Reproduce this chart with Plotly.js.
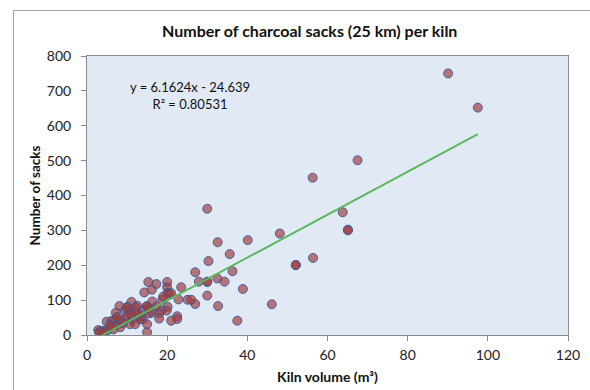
<!DOCTYPE html>
<html>
<head>
<meta charset="utf-8">
<script src="https://cdn.plot.ly/plotly-3.0.1.min.js"></script>
<style>
html,body{margin:0;padding:0;background:#fff;}
#wrap{position:relative;width:590px;height:390px;overflow:hidden;}
#frame{position:absolute;left:13px;top:10px;width:700px;height:500px;border-left:1px solid #a6a6a6;border-top:1px solid #a6a6a6;}
#chart{position:absolute;left:0;top:0;width:590px;height:390px;}
</style>
</head>
<body>
<div id="wrap"><div id="frame"></div><div id="chart"></div></div>
<script>
// Kiln volume (m³)
const kilnVolume = [
  90.1, 97.5, 67.5, 56.3, 63.8, 65.1, 65.1, 48.1, 40.1, 32.6,
  35.6, 56.4, 52.1, 52.1, 36.3, 30.0, 30.3, 32.5, 34.3, 38.9,
  46.1, 37.5, 32.7, 30.0, 27.9, 30.0, 30.0, 27.0, 27.0,
  23.5, 20.0, 17.3, 15.3, 14.3, 16.2, 20.0, 20.1, 21.0, 16.3,
  18.8, 22.8, 25.1, 26.0, 15.0, 20.1, 18.5, 19.9, 15.5, 16.2,
  13.9, 18.0, 22.5, 22.5, 21.0, 18.0, 13.6, 13.9, 15.0, 15.0,
  11.1, 8.1, 10.1, 12.5, 17.4, 7.2, 9.5, 10.7, 12.0, 15.3,
  4.9, 6.2, 7.0, 8.2, 9.5, 11.4, 13.2, 5.7, 7.4, 9.0,
  10.7, 12.0, 2.8, 3.5, 4.3, 5.2, 4.1, 6.6, 8.3, 9.9,
  12.2, 12.8, 14.9, 20.5, 7.5, 6.0, 3.0, 10.0, 11.0, 19.0
];
// Number of sacks
const sacks = [
  750, 652, 501, 451, 352, 302, 300, 291, 272, 266,
  232, 221, 200, 201, 183, 362, 212, 162, 153, 132,
  88, 41, 83, 113, 153, 152, 153, 180, 89,
  137, 152, 146, 152, 122, 130, 137, 121, 120, 96,
  101, 102, 101, 101, 81, 81, 70, 70, 62, 64,
  69, 62, 54, 46, 41, 47, 54, 45, 31, 8,
  95, 83, 81, 84, 82, 64, 70, 70, 67, 76,
  38, 41, 45, 43, 45, 45, 45, 29, 29, 34,
  31, 31, 14, 12, 12, 14, 5, 16, 22, 78,
  78, 60, 83, 118, 52, 25, 8, 55, 60, 110
];
// Linear trendline reported on the chart
const trendSlope = 6.1624;
const trendIntercept = -24.639;
const rSquared = 0.80531;

const xTicks = [0, 20, 40, 60, 80, 100, 120];
const yTicks = [0, 100, 200, 300, 400, 500, 600, 700, 800];

const xMin = Math.min(...kilnVolume), xMax = Math.max(...kilnVolume);
const trendX = [xMin, xMax];
const trendY = trendX.map(v => trendSlope * v + trendIntercept);

const font = 'Lato, "Open Sans", sans-serif';

const traces = [
  {
    type: 'scatter', mode: 'markers', x: kilnVolume, y: sacks,
    marker: {size: 9, color: 'rgba(160,60,60,0.68)', line: {color: 'rgba(60,90,150,0.9)', width: 1}},
    hoverinfo: 'x+y', showlegend: false
  },
  {
    type: 'scatter', mode: 'lines', x: trendX, y: trendY,
    line: {color: '#5cb85c', width: 2}, showlegend: false, hoverinfo: 'skip'
  }
];

const axisCommon = {
  showgrid: false, zeroline: false, showline: true, mirror: true,
  linecolor: '#8c8c8c', linewidth: 1,
  ticks: 'outside', ticklen: 5, tickcolor: '#8c8c8c', tickwidth: 1,
  tickfont: {family: font, size: 14, color: '#222'}
};

const layout = {
  width: 590, height: 390,
  paper_bgcolor: 'rgba(0,0,0,0)',
  plot_bgcolor: '#e1e9f5',
  margin: {l: 87, r: 22, t: 56, b: 55},
  font: {family: font, color: '#111'},
  title: {
    text: '<b>Number of charcoal sacks (25 km) per kiln</b>',
    font: {family: font, size: 16, color: '#111'},
    x: 0.525, xref: 'container', xanchor: 'center',
    y: 1 - 31/390, yref: 'container', yanchor: 'middle'
  },
  xaxis: Object.assign({}, axisCommon, {
    range: [0, 120], tickvals: xTicks, ticktext: xTicks.map(String),
    ticklabelstandoff: 2,
    title: {text: '<b>Kiln volume (m³)</b>', font: {family: font, size: 14, color: '#111'}, standoff: 10}
  }),
  yaxis: Object.assign({}, axisCommon, {
    range: [0, 800], tickvals: yTicks, ticktext: yTicks.map(String),
    ticklabelstandoff: 7,
    title: {text: '<b>Number of sacks</b>', font: {family: font, size: 13.5, color: '#111'}, standoff: 3}
  }),
  annotations: [{
    xref: 'paper', yref: 'paper', x: 0.214, y: 0.86,
    xanchor: 'center', yanchor: 'middle', showarrow: false, align: 'center',
    text: 'y = ' + trendSlope + 'x - ' + Math.abs(trendIntercept) + '<br>R² = ' + rSquared,
    font: {family: font, size: 13, color: '#111'}
  }]
};

Plotly.newPlot('chart', traces, layout, {displayModeBar: false, staticPlot: true});
</script>
</body>
</html>
